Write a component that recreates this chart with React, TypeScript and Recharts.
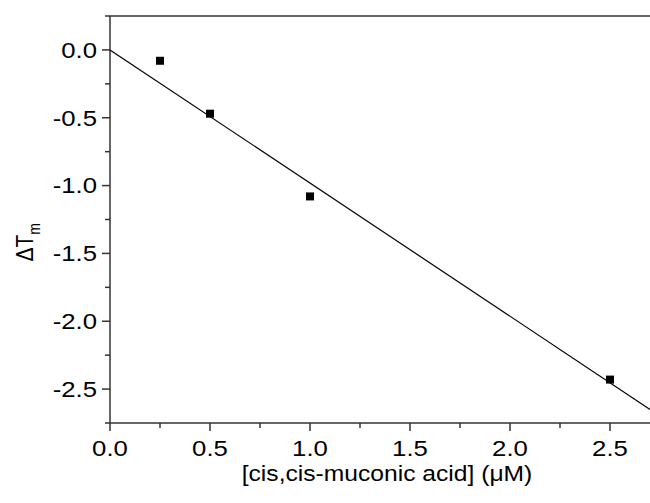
import React from 'react';
import {
  ComposedChart,
  Scatter,
  XAxis,
  YAxis,
  ReferenceLine,
  Label,
} from 'recharts';

// measured points
const concentration = [0.25, 0.5, 1.0, 2.5];
const deltaTm = [-0.08, -0.47, -1.08, -2.43];

// linear fit drawn through the origin
const fitX = [0, 2.7];
const fitY = [0, -2.65];

const xTicks = [0, 0.25, 0.5, 0.75, 1, 1.25, 1.5, 1.75, 2, 2.25, 2.5];
const yTicks = [-2.75, -2.5, -2.25, -2, -1.75, -1.5, -1.25, -1, -0.75, -0.5, -0.25, 0, 0.25];

const xDomain = [0, 2.7];
const yDomain = [-2.75, 0.25];

const points = concentration.map((x, i) => ({ x, y: deltaTm[i] }));
const fitLine = fitX.map((x, i) => ({ x, y: fitY[i] }));

const FONT = '"Liberation Sans", Arial, sans-serif';
const AXIS = '#333';
const STRETCH = 1.17;
const TICK_FONT = 22;

const isMajor = (v: number) => Math.abs(v * 2 - Math.round(v * 2)) < 1e-6;

const YTick = (props: any) => {
  const { x, y, payload } = props;
  const v = payload.value;
  const major = isMajor(v);
  const ax = x + 13;
  return (
    <g>
      <line x1={ax} x2={ax - (major ? 8 : 5)} y1={y} y2={y} stroke={AXIS} strokeWidth={1.5} />
      {major && (
        <text
          transform={`translate(${x},${y}) scale(${STRETCH},1)`}
          textAnchor="end"
          dy="0.355em"
          fontFamily={FONT}
          fontSize={TICK_FONT}
          fill="#000"
        >
          {v.toFixed(1)}
        </text>
      )}
    </g>
  );
};

const XTick = (props: any) => {
  const { x, y, payload } = props;
  const v = payload.value;
  const major = isMajor(v);
  const ay = y - 17;
  return (
    <g>
      <line x1={x} x2={x} y1={ay} y2={ay + (major ? 8 : 5)} stroke={AXIS} strokeWidth={1.5} />
      {major && (
        <text
          transform={`translate(${x},${y}) scale(${STRETCH},1)`}
          textAnchor="middle"
          dy="0.71em"
          fontFamily={FONT}
          fontSize={TICK_FONT}
          fill="#000"
        >
          {v.toFixed(1)}
        </text>
      )}
    </g>
  );
};

const XTitle = (props: any) => {
  const { x, y, width } = props.viewBox;
  return (
    <text
      transform={`translate(${x + width / 2 + 7},${y + 58}) scale(1.12,1)`}
      textAnchor="middle"
      fontFamily={FONT}
      fontSize={22}
      fill="#000"
    >
      [cis,cis-muconic acid] (μM)
    </text>
  );
};

const YTitle = (props: any) => {
  const { x, y, height } = props.viewBox;
  return (
    <text
      transform={`translate(${x + 33},${y + height / 2 + 42}) scale(1.15,1) rotate(-90)`}
      textAnchor="start"
      fontFamily={FONT}
      fontSize={21}
      fill="#000"
    >
      ΔT
      <tspan fontSize={14} dy={6}>m</tspan>
    </text>
  );
};

const NoDot = () => <g />;

export default function App() {
  return (
    <div style={{ position: 'absolute', left: 0, top: 0, width: 650, height: 503, background: '#fff' }}>
      <ComposedChart width={650} height={503} margin={{ top: 16, right: 0, bottom: 0, left: 0 }}>
        <XAxis
          dataKey="x"
          type="number"
          domain={xDomain}
          ticks={xTicks}
          interval={0}
          height={80}
          tickLine={false}
          tickSize={8}
          tickMargin={9}
          tick={<XTick />}
          axisLine={{ stroke: AXIS, strokeWidth: 1.5 }}
          allowDataOverflow
        >
          <Label content={<XTitle />} />
        </XAxis>
        <YAxis
          dataKey="y"
          type="number"
          domain={yDomain}
          ticks={yTicks}
          interval={0}
          width={110}
          tickLine={false}
          tickSize={8}
          tickMargin={5}
          tick={<YTick />}
          axisLine={{ stroke: AXIS, strokeWidth: 1.5 }}
          allowDataOverflow
        >
          <Label content={<YTitle />} />
        </YAxis>
        <ReferenceLine y={yDomain[1]} stroke={AXIS} strokeWidth={1.5} />
        <Scatter
          data={fitLine}
          line={{ stroke: '#000', strokeWidth: 1.2 }}
          shape={<NoDot />}
          isAnimationActive={false}
        />
        <Scatter data={points} shape="square" fill="#000" isAnimationActive={false} />
      </ComposedChart>
    </div>
  );
}
